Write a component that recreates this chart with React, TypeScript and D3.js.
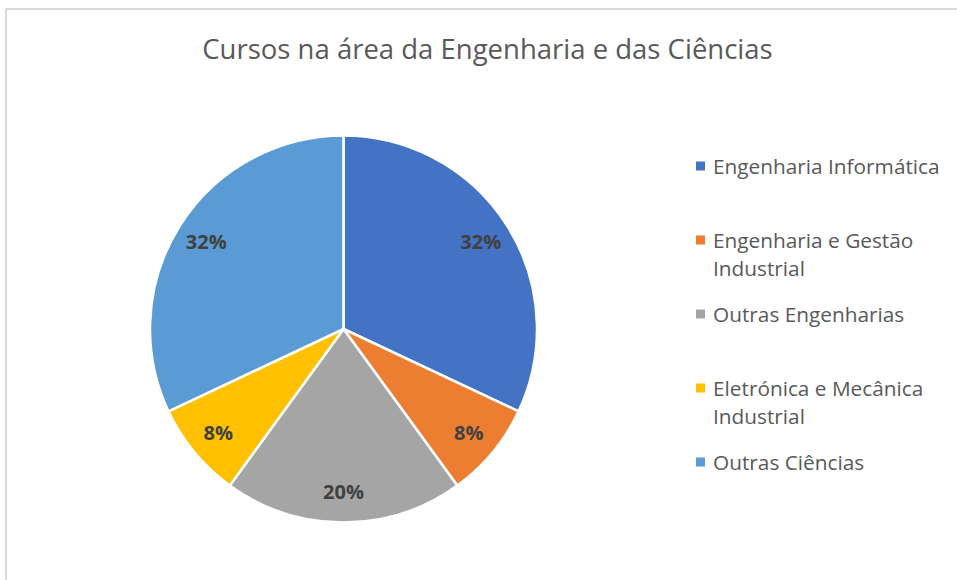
import React, { useEffect, useRef } from "react";
import * as d3 from "d3";

const categories = [
  "Engenharia Informática",
  "Engenharia e Gestão Industrial",
  "Outras Engenharias",
  "Eletrónica e Mecânica Industrial",
  "Outras Ciências",
];
const values = [32, 8, 20, 8, 32];
const colors = ["#4472C4", "#ED7D31", "#A5A5A5", "#FFC000", "#5B9BD5"];
// legend text as it wraps in the original
const legendLines = [
  ["Engenharia Informática"],
  ["Engenharia e Gestão", "Industrial"],
  ["Outras Engenharias"],
  ["Eletrónica e Mecânica", "Industrial"],
  ["Outras Ciências"],
];
const title = "Cursos na área da Engenharia e das Ciências";

function PieChart({ width = 957, height = 580 }) {
  const svgRef = useRef<SVGSVGElement>(null);

  useEffect(() => {
    const svg = d3.select(svgRef.current);
    svg.selectAll("*").remove();

    const font = "'Open Sans', 'DejaVu Sans', sans-serif";
    const cx = 343.5;
    const cy = 329;
    const radius = 193.5;

    // chart area frame
    svg
      .append("rect")
      .attr("x", 6)
      .attr("y", 9)
      .attr("width", width + 20)
      .attr("height", height + 20)
      .attr("fill", "#fff")
      .attr("stroke", "#d9d9d9")
      .attr("stroke-width", 2);

    svg
      .append("text")
      .attr("x", 487.5)
      .attr("y", 59)
      .attr("text-anchor", "middle")
      .attr("font-family", font)
      .attr("font-size", 27.5)
      .attr("fill", "#595959")
      .text(title);

    const total = d3.sum(values);
    const pie = d3
      .pie<number>()
      .sort(null)
      .value((d) => d);
    const arcs = pie(values);
    const arc = d3.arc<d3.PieArcDatum<number>>().innerRadius(0).outerRadius(radius);
    const labelArc = d3
      .arc<d3.PieArcDatum<number>>()
      .innerRadius(radius * 0.84)
      .outerRadius(radius * 0.84);

    const g = svg.append("g").attr("transform", `translate(${cx},${cy})`);

    g.selectAll("path.slice")
      .data(arcs)
      .join("path")
      .attr("class", "slice")
      .attr("d", arc)
      .attr("fill", (d, i) => colors[i])
      .attr("stroke", "#fff")
      .attr("stroke-width", 2.5)
      .attr("stroke-linejoin", "round");

    g.selectAll("text.pct")
      .data(arcs)
      .join("text")
      .attr("class", "pct")
      .attr("x", (d) => labelArc.centroid(d)[0])
      .attr("y", (d) => labelArc.centroid(d)[1])
      .attr("dy", "0.36em")
      .attr("text-anchor", "middle")
      .attr("font-family", font)
      .attr("font-weight", "bold")
      .attr("font-size", 20)
      .attr("fill", "#404040")
      .text((d) => `${Math.round((d.value / total) * 100)}%`);

    // legend
    const legendX = 696;
    const legendY = 166;
    const legendStep = 74;
    const lineH = 29;

    const items = svg
      .append("g")
      .selectAll("g")
      .data(categories)
      .join("g")
      .attr("transform", (d, i) => `translate(${legendX},${legendY + i * legendStep})`);

    items
      .append("rect")
      .attr("x", 0)
      .attr("y", -4.5)
      .attr("width", 9)
      .attr("height", 9)
      .attr("fill", (d, i) => colors[i]);

    items
      .append("text")
      .attr("x", 17)
      .attr("y", 0)
      .attr("font-family", font)
      .attr("font-size", 20.8)
      .attr("fill", "#595959")
      .selectAll("tspan")
      .data((d, i) => legendLines[i])
      .join("tspan")
      .attr("x", 17)
      .attr("y", (d, j) => j * lineH)
      .attr("dy", "0.36em")
      .text((d) => d);
  }, [width, height]);

  return (
    <svg
      ref={svgRef}
      width={width}
      height={height}
      style={{ position: "absolute", left: 0, top: 0, background: "#fff" }}
    ></svg>
  );
}

export default function App() {
  return <PieChart />;
}
